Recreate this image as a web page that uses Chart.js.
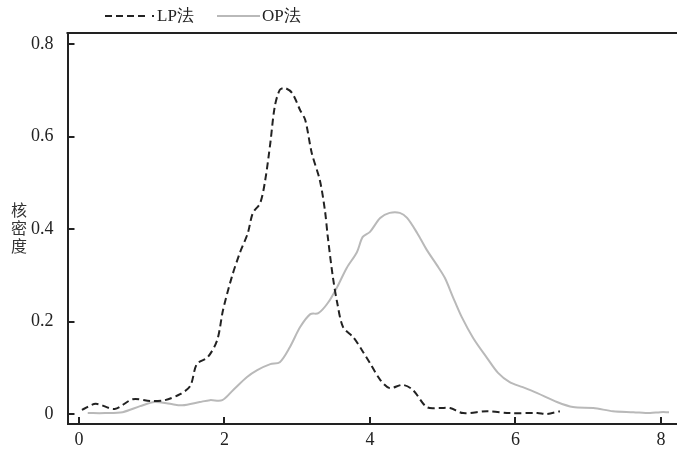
<!DOCTYPE html>
<html>
<head>
<meta charset="utf-8">
<script src="https://cdn.jsdelivr.net/npm/chart.js@4/dist/chart.umd.min.js"></script>
<style>
  html, body { margin: 0; padding: 0; background: #fff; }
  #wrap { width: 677px; height: 452px; }
</style>
</head>
<body>
<div id="wrap"><canvas id="kde"></canvas></div>
<script>
// LP法 kernel density (dashed)
let lpX = [0.04, 0.23, 0.49, 0.74, 0.98, 1.18, 1.39, 1.53, 1.62, 1.77, 1.90, 1.98, 2.10, 2.21, 2.32, 2.39,
           2.49, 2.56, 2.63, 2.69, 2.76, 2.83, 2.93, 3.04, 3.11, 3.20, 3.31, 3.38, 3.42, 3.49, 3.55, 3.63,
           3.77, 3.89, 4.00, 4.14, 4.27, 4.45, 4.59, 4.78, 4.96, 5.10, 5.28, 5.61, 5.92, 6.30, 6.43, 6.61];
let lpY = [0.009, 0.022, 0.011, 0.032, 0.028, 0.030, 0.043, 0.061, 0.108, 0.123, 0.160, 0.225, 0.296, 0.348, 0.391, 0.435,
           0.456, 0.506, 0.586, 0.664, 0.701, 0.705, 0.694, 0.657, 0.636, 0.564, 0.506, 0.441, 0.383, 0.296, 0.240, 0.188,
           0.166, 0.138, 0.110, 0.074, 0.056, 0.063, 0.052, 0.015, 0.013, 0.013, 0.002, 0.006, 0.002, 0.002, 0.000, 0.006];

// OP法 kernel density (solid grey)
let opX = [0.12, 0.36, 0.60, 0.84, 1.04, 1.25, 1.42, 1.66, 1.80, 1.97, 2.12, 2.31, 2.45, 2.63, 2.76, 2.90,
           3.04, 3.18, 3.29, 3.42, 3.55, 3.68, 3.82, 3.90, 4.00, 4.14, 4.27, 4.41, 4.51, 4.65, 4.78, 4.92,
           5.03, 5.14, 5.26, 5.42, 5.61, 5.76, 5.92, 6.10, 6.30, 6.57, 6.79, 7.07, 7.34, 7.62, 7.85, 7.99, 8.11];
let opY = [0.002, 0.002, 0.004, 0.017, 0.026, 0.022, 0.019, 0.026, 0.030, 0.030, 0.052, 0.080, 0.095, 0.108, 0.112, 0.145,
           0.188, 0.216, 0.218, 0.240, 0.275, 0.316, 0.350, 0.383, 0.394, 0.424, 0.435, 0.435, 0.424, 0.391, 0.355, 0.322,
           0.294, 0.253, 0.210, 0.164, 0.121, 0.089, 0.069, 0.058, 0.045, 0.026, 0.015, 0.013, 0.006, 0.004, 0.002, 0.004, 0.004];

let seriesNames = ["LP法", "OP法"];
let xTicks = [0, 2, 4, 6, 8];
let yTicks = [0, 0.2, 0.4, 0.6, 0.8];
let yTitle = ["核", "密", "度"];

const ink = "#222";
const grey = "#b9b9b9";
const serif = "Liberation Serif, Times New Roman, serif";

function toPoints(xs, ys) {
    return xs.map(function (x, i) { return { x: x, y: ys[i] }; });
}

// fixed axis sizes, no label overflow padding
function fixSize(prop, size) {
    return function (scale) {
        scale[prop] = size;
        scale.paddingTop = 0;
        scale.paddingBottom = 0;
        scale.paddingLeft = 0;
        scale.paddingRight = 0;
    };
}

// top frame line, legend and the vertical y title
const extras = {
    id: "extras",
    afterDraw: function (chart) {
        const ctx = chart.ctx;
        const a = chart.chartArea;
        ctx.save();
        ctx.strokeStyle = ink;
        ctx.lineWidth = 2;
        ctx.beginPath();
        ctx.moveTo(a.left - 1, a.top);
        ctx.lineTo(a.right, a.top);
        ctx.stroke();

        // legend
        const ly = 16;
        ctx.strokeStyle = ink;
        ctx.setLineDash([7, 4]);
        ctx.beginPath();
        ctx.moveTo(105, ly);
        ctx.lineTo(148, ly);
        ctx.stroke();
        ctx.setLineDash([]);
        ctx.fillStyle = ink;
        ctx.fillRect(152, ly - 1, 2, 2);
        ctx.strokeStyle = grey;
        ctx.beginPath();
        ctx.moveTo(217, ly);
        ctx.lineTo(260, ly);
        ctx.stroke();

        ctx.font = "17px " + serif;
        ctx.textBaseline = "middle";
        ctx.textAlign = "left";
        ctx.fillStyle = ink;
        ctx.fillText(seriesNames[0], 157, ly + 1);
        ctx.fillText(seriesNames[1], 262, ly + 1);

        // y title, one character per line
        ctx.font = "16px Noto Sans CJK SC, sans-serif";
        ctx.textAlign = "center";
        ctx.fillStyle = "#333";
        yTitle.forEach(function (ch, i) {
            ctx.fillText(ch, 19, 210 + i * 18);
        });
        ctx.restore();
    }
};

new Chart(document.getElementById("kde"), {
    type: "line",
    data: {
        datasets: [{
            label: seriesNames[0],
            data: toPoints(lpX, lpY),
            borderColor: ink,
            borderWidth: 2,
            borderDash: [7, 4],
            pointRadius: 0,
            tension: 0.3,
            fill: false
        }, {
            label: seriesNames[1],
            data: toPoints(opX, opY),
            borderColor: grey,
            borderWidth: 2,
            pointRadius: 0,
            tension: 0.3,
            fill: false
        }]
    },
    options: {
        responsive: true,
        maintainAspectRatio: false,
        animation: false,
        layout: { padding: { top: 33, right: 0, left: 0, bottom: 0 } },
        plugins: {
            legend: { display: false },
            tooltip: { enabled: false }
        },
        scales: {
            x: {
                type: "linear",
                min: -0.158,
                max: 8.22,
                afterBuildTicks: function (scale) {
                    scale.ticks = xTicks.map(function (v) { return { value: v }; });
                },
                afterFit: fixSize("height", 28),
                border: { display: true, color: ink, width: 2 },
                grid: { drawOnChartArea: false, drawTicks: true, tickLength: -7, color: ink, lineWidth: 2 },
                ticks: {
                    color: ink,
                    padding: 12,
                    maxRotation: 0,
                    font: { family: serif, size: 18 },
                    callback: function (v) { return String(v); }
                }
            },
            y: {
                min: -0.0216,
                max: 0.824,
                afterBuildTicks: function (scale) {
                    scale.ticks = yTicks.map(function (v) { return { value: v }; });
                },
                afterFit: fixSize("width", 67.5),
                border: { display: true, color: ink, width: 2 },
                grid: { drawOnChartArea: false, drawTicks: true, tickLength: -7, color: ink, lineWidth: 2 },
                ticks: {
                    color: ink,
                    padding: 21,
                    font: { family: serif, size: 18 },
                    callback: function (v) { return v === 0 ? "0" : v.toFixed(1); }
                }
            }
        }
    },
    plugins: [extras]
});
</script>
</body>
</html>
